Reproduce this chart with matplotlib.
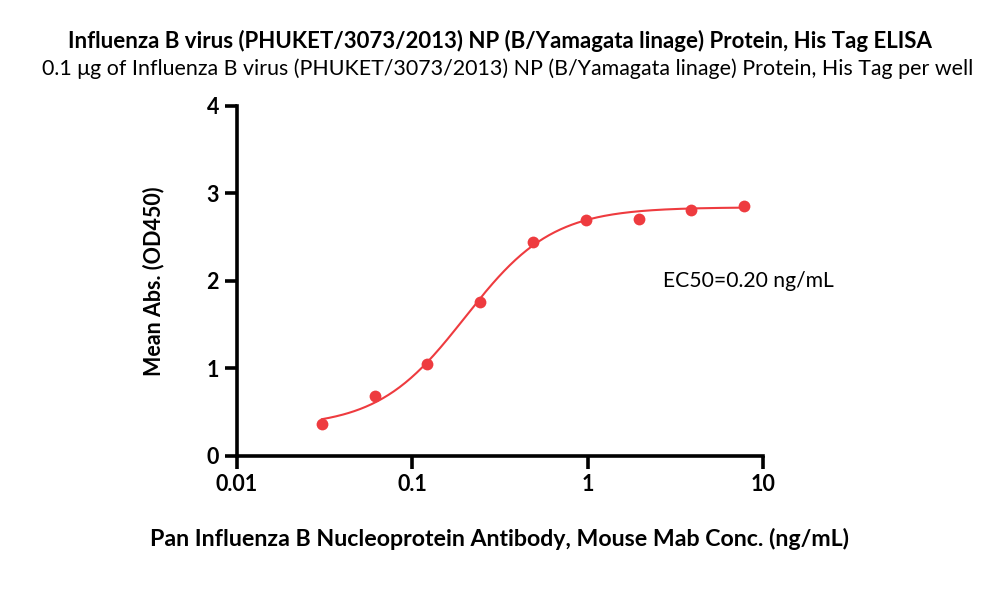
import matplotlib
matplotlib.use("Agg")
import matplotlib.pyplot as plt
import numpy as np

plt.rcParams['font.family'] = ['Lato', 'DejaVu Sans']

# concentrations (ng/mL) and mean OD450
conc = [0.0305, 0.061, 0.122, 0.244, 0.488, 0.977, 1.953, 3.906, 7.8125]
od450 = [0.36, 0.69, 1.05, 1.76, 2.44, 2.69, 2.71, 2.81, 2.86]

# 4PL fit parameters
bottom = 0.33
top = 2.84
ec50 = 0.20
hill = 1.75

title = "Influenza B virus (PHUKET/3073/2013) NP (B/Yamagata linage) Protein, His Tag ELISA"
subtitle = "0.1 \u03bcg of Influenza B virus (PHUKET/3073/2013) NP (B/Yamagata linage) Protein, His Tag per well"
xlabel = "Pan Influenza B Nucleoprotein Antibody, Mouse Mab Conc. (ng/mL)"
ylabel = "Mean Abs. (OD450)"

red = '#ee3b3f'

fig = plt.figure(figsize=(10, 6.05), dpi=100)
ax = fig.add_axes([0.237, 0.2463, 0.526, 0.579])

xs = np.logspace(np.log10(conc[0]), np.log10(conc[-1]), 300)
ys = bottom + (top - bottom) / (1 + (ec50 / xs) ** hill)
ax.plot(xs, ys, color=red, lw=1.5)
ax.plot(conc, od450, 'o', color=red, ms=8.5, mec='none')

ax.set_xscale('log')
ax.set_xlim(0.01, 10)
ax.set_ylim(0, 4)
ax.set_xticks([0.01, 0.1, 1, 10])
ax.set_xticklabels(['0.01', '0.1', '1', '10'])
ax.set_yticks([0, 1, 2, 3, 4])
ax.minorticks_off()
for s in ['top', 'right']:
    ax.spines[s].set_visible(False)
for s in ['left', 'bottom']:
    ax.spines[s].set_linewidth(2.6)
ax.tick_params(width=2.6, length=9, labelsize=15.5, pad=4)
for lab in ax.get_xticklabels() + ax.get_yticklabels():
    lab.set_fontweight('bold')

ax.set_xlabel(xlabel, fontsize=16.7, fontweight='bold', labelpad=24)
ax.set_ylabel(ylabel, fontsize=15.5, fontweight='bold', labelpad=30)
ax.text(0.01 * 10 ** ((663 - 237) / 175.2), 2.0, 'EC50=0.20 ng/mL', fontsize=15.2, va='center', ha='left')

fig.text(0.5, 1 - 41 / 605, title, ha='center', va='center', fontsize=16, fontweight='bold')
fig.text(0.508, 1 - 69 / 605, subtitle, ha='center', va='center', fontsize=15.4)

fig.savefig('out.png', dpi=100, facecolor='white')
